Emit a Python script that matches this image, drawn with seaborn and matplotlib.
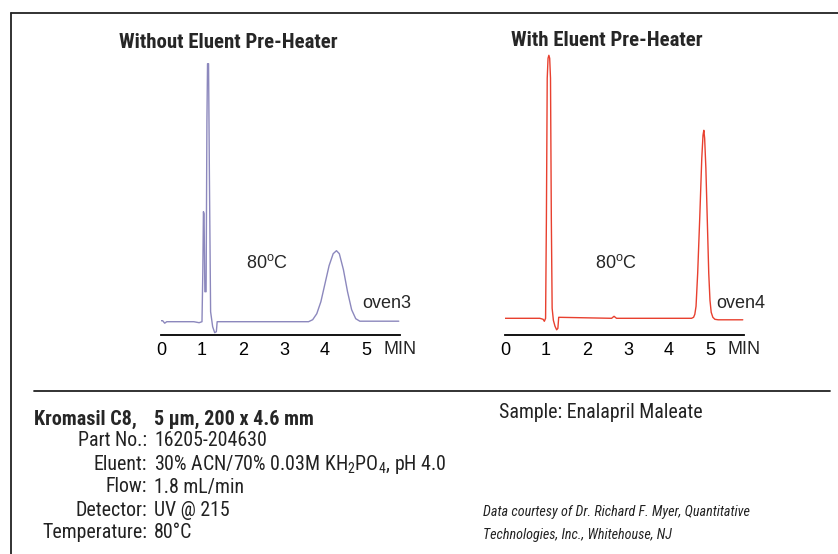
import pandas as pd
import numpy as np
import matplotlib
matplotlib.use("Agg")
import matplotlib.pyplot as plt
from matplotlib import font_manager
import seaborn as sns

# ==== data ====
time_without = [0.00, 0.04, 0.09, 0.14, 0.80, 0.93, 1.00, 1.02, 1.035, 1.05, 1.07, 1.10,
                1.12, 1.135, 1.16, 1.18, 1.21, 1.26, 1.31, 1.35, 1.37, 3.60, 3.70, 3.80,
                3.90, 4.00, 4.10, 4.20, 4.28, 4.35, 4.45, 4.55, 4.65, 4.75, 4.85, 5.80]
signal_without = [1, 1, -1.5, 0, 0, -1, 0, 50, 110, 108, 30, 30,
                  200, 258, 258, 150, 10, -5, -11, -10, 0, 0, 2, 8,
                  20, 38, 56, 68, 71, 68, 52, 30, 12, 3, 0.5, 0.5]

time_with = [0.00, 0.85, 0.93, 0.96, 0.99, 1.01, 1.03, 1.05, 1.07, 1.09, 1.11, 1.13, 1.15,
             1.18, 1.22, 1.26, 1.29, 1.31, 2.60, 2.66, 2.72, 4.55, 4.60, 4.63, 4.66,
             4.70, 4.75, 4.80, 4.83, 4.85, 4.87, 4.90, 4.94, 4.97, 5.00, 5.03, 5.07,
             5.12, 5.20, 5.80]
signal_with = [0, 0, -1, -3, 0, 100, 240, 260, 263, 260, 240, 100, 10,
               -2, -8, -11.5, -10, 1, 0, 2, 0, 0, 1, 4, 12,
               45, 100, 160, 183, 188, 180, 150, 90, 45, 18, 6, 1,
               -1, -1.5, -1.5]

minute_ticks = [0, 1, 2, 3, 4, 5]
panel_titles = ["Without Eluent Pre-Heater", "With Eluent Pre-Heater"]
run_names = ["oven3", "oven4"]

column_rows = [("Part No.:", "16205-204630"),
               ("Eluent:", r"30% ACN/70% 0.03M KH$_\mathregular{2}$PO$_\mathregular{4}$, pH 4.0"),
               ("Flow:", "1.8 mL/min"),
               ("Detector:", "UV @ 215"),
               ("Temperature:", "80°C")]

# ==== style ====
sns.set_theme(style="white")
names = {f.name for f in font_manager.fontManager.ttflist}
narrow = "Liberation Sans"
for cand in ["Roboto Condensed", "Liberation Sans Narrow", "Archivo Narrow",
             "PT Sans Narrow", "Fira Sans Condensed", "IBM Plex Sans Condensed",
             "Open Sans Condensed"]:
    if cand in names:
        narrow = cand
        break
NARROW = [narrow, "DejaVu Sans"]
plt.rcParams["font.family"] = ["Liberation Sans", "DejaVu Sans"]
plt.rcParams["mathtext.fontset"] = "custom"
plt.rcParams["mathtext.rm"] = narrow
plt.rcParams["mathtext.it"] = narrow + ":italic"

W, H = 838, 554
fig = plt.figure(figsize=(W / 100, H / 100), dpi=100)
fig.patch.set_facecolor("white")

def fx(px):
    return px / W

def fy(py):
    return 1 - py / H

df_without = pd.DataFrame({"time": time_without, "signal": signal_without})
df_with = pd.DataFrame({"time": time_with, "signal": signal_with})

panels = [
    (df_without, 161, (-13.3, 271.7), "#8c88bd"),
    (df_with, 505, (-16.7, 268.3), "#e8402f"),
]

for i, (df, left, ylim, color) in enumerate(panels):
    ax = fig.add_axes([fx(left), fy(335), fx(239), 285 / H])
    sns.lineplot(data=df, x="time", y="signal", ax=ax, color=color,
                 linewidth=1.0, estimator=None, sort=False)
    ax.set_xlim(0, 5.83)
    ax.set_ylim(*ylim)
    ax.set_xticks(minute_ticks)
    ax.set_xticklabels([str(t) for t in minute_ticks], fontsize=13)
    ax.set_yticks([])
    ax.set_xlabel("")
    ax.set_ylabel("")
    for s in ["top", "left", "right"]:
        ax.spines[s].set_visible(False)
    ax.spines["bottom"].set_color("black")
    ax.spines["bottom"].set_linewidth(1.3)
    ax.tick_params(axis="x", length=0, pad=5, colors="black")
    ax.set_facecolor("none")

fig.text(fx(400), fy(350), "MIN", fontsize=13, ha="center", va="center")
fig.text(fx(744), fy(350), "MIN", fontsize=13, ha="center", va="center")

fig.text(fx(228), fy(43), panel_titles[0], fontsize=15, fontweight="bold",
         family=NARROW, ha="center", va="center")
fig.text(fx(607), fy(41), panel_titles[1], fontsize=15, fontweight="bold",
         family=NARROW, ha="center", va="center")

fig.text(fx(267), fy(263), r"80$^\mathregular{o}$C", fontsize=13, ha="center", va="center")
fig.text(fx(616), fy(263), r"80$^\mathregular{o}$C", fontsize=13, ha="center", va="center")
fig.text(fx(387), fy(303), run_names[0], fontsize=13, ha="center", va="center")
fig.text(fx(741), fy(303), run_names[1], fontsize=13, ha="center", va="center")

# ==== frame and divider ====
fig.add_artist(plt.Line2D([fx(11), fx(11)], [fy(13), 0], color="#222222", lw=1.3))
fig.add_artist(plt.Line2D([fx(11), 1], [fy(13), fy(13)], color="#222222", lw=1.3))
fig.add_artist(plt.Line2D([fx(34), fx(830)], [fy(391), fy(391)], color="#222222", lw=1.3))

# ==== column info ====
fig.text(fx(34), fy(419), "Kromasil C8,", fontsize=14.5, fontweight="bold",
         family=NARROW, ha="left", va="center")
fig.text(fx(154), fy(419), "5 µm, 200 x 4.6 mm", fontsize=14.5, fontweight="bold",
         family=NARROW, ha="left", va="center")
for k, (lab, val) in enumerate(column_rows):
    y = 441 + 23 * k
    fig.text(fx(147), fy(y), lab, fontsize=14.3, family=NARROW,
             ha="right", va="center", color="#222222")
    fig.text(fx(154), fy(y), val, fontsize=14.3, family=NARROW,
             ha="left", va="center", color="#222222")

fig.text(fx(499), fy(412), "Sample: Enalapril Maleate", fontsize=14.3,
         family=NARROW, ha="left", va="center", color="#222222")
fig.text(fx(483), fy(512), "Data courtesy of Dr. Richard F. Myer, Quantitative",
         fontsize=10.2, style="italic", family=NARROW,
         ha="left", va="center", color="#222222")
fig.text(fx(483), fy(535), "Technologies, Inc., Whitehouse, NJ",
         fontsize=10.2, style="italic", family=NARROW,
         ha="left", va="center", color="#222222")

fig.savefig("out.png", dpi=100, facecolor="white")
